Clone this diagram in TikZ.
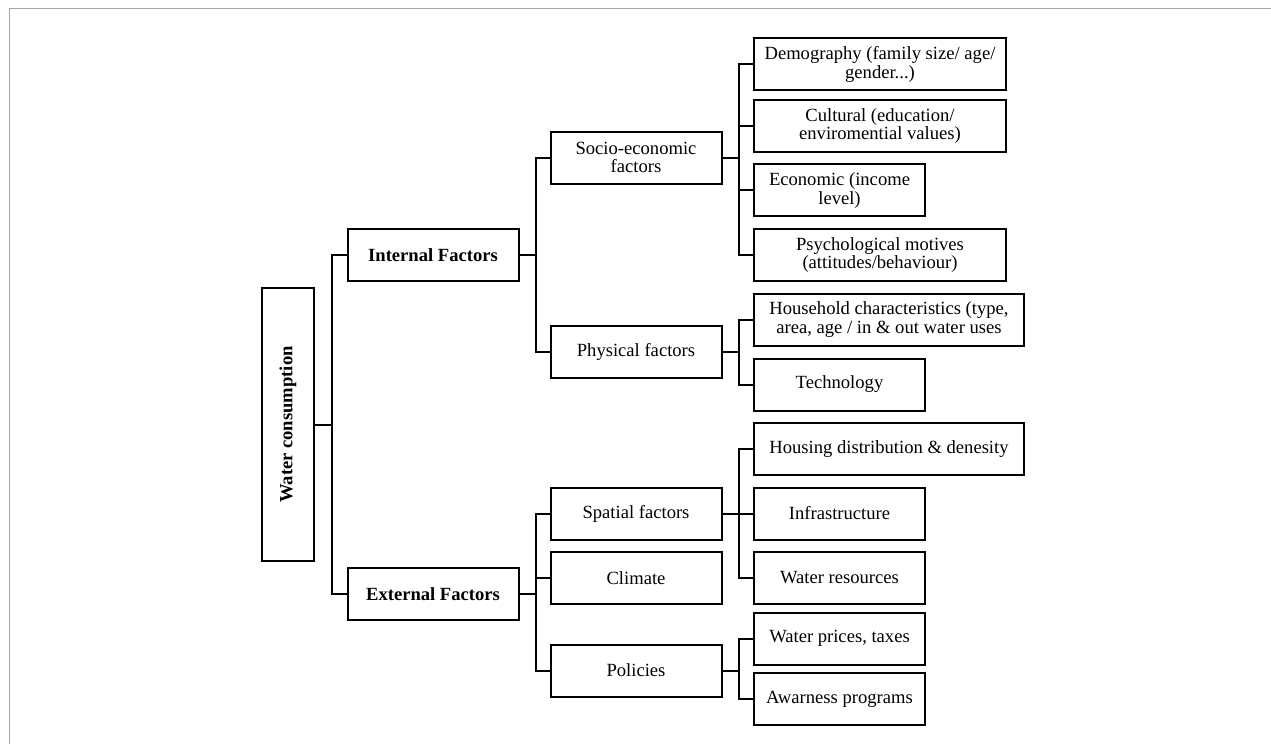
\documentclass[tikz,border=0pt]{standalone}
\usepackage{fontspec}
\setmainfont{Liberation Serif}
\usepackage{tikz}
\usetikzlibrary{calc}
\definecolor{framegray}{HTML}{A6A6A6}

\begin{document}
\begin{tikzpicture}[
            x=1pt, y=-1pt,
            block/.style={rectangle, draw, line width=2pt, align=center, inner sep=2pt,
                minimum height=52pt, minimum width=171pt,
                font=\fontsize{18.6}{18.8}\selectfont},
            wideblock/.style={block, minimum width=252pt},
            widerblock/.style={block, minimum width=270pt},
            link/.style={line width=2pt}
        ]

        \useasboundingbox (0,0) rectangle (1271,744);
        \draw[framegray, line width=1.6pt] (9.3,744) -- (9.3,8.3) -- (1271,8.3);

        % root and first level
        \node[block, rotate=90, minimum width=273pt, minimum height=52pt, font=\fontsize{18.6}{18.8}\selectfont\bfseries] (consumption) at (288,424.5) {Water consumption};
        \node[block, font=\fontsize{18.6}{18.8}\selectfont\bfseries] (internal) at (433,255) {Internal Factors};
        \node[block, font=\fontsize{18.6}{18.8}\selectfont\bfseries] (external) at (433,594) {External Factors};

        % second level
        \node[block] (socio) at (636,157.5) {Socio-economic\\factors};
        \node[block] (physical) at (636,352) {Physical factors};
        \node[block] (spatial) at (636,513.5) {Spatial factors};
        \node[block] (climate) at (636,578) {Climate};
        \node[block] (policies) at (636,670.5) {Policies};

        % third level
        \node[wideblock] (demography) at (880,64.2) {Demography (family size/ age/\\gender...)};
        \node[wideblock] (cultural) at (880,126) {Cultural (education/\\enviromential values)};
        \node[block] (economic) at (839.5,190.3) {Economic (income\\level)};
        \node[wideblock] (psychological) at (880,255) {Psychological motives\\(attitudes/behaviour)};
        \node[widerblock] (household) at (889,319.5) {Household characteristics (type,\\area, age / in \& out water uses};
        \node[block] (technology) at (839.5,384.5) {Technology};
        \node[widerblock] (housing) at (889,449) {Housing distribution \& denesity};
        \node[block] (infrastructure) at (839.5,513.5) {Infrastructure};
        \node[block] (resources) at (839.5,578) {Water resources};
        \node[block] (prices) at (839.5,638.5) {Water prices, taxes};
        \node[block] (awareness) at (839.5,699) {Awarness programs};

        \draw[link] (consumption.south) -- ++(16.5,0) |- (internal.west);
        \draw[link] (consumption.south) -- ++(16.5,0) |- (external.west);

        \draw[link] (internal.east) -- ++(16.5,0) |- (socio.west);
        \draw[link] (internal.east) -- ++(16.5,0) |- (physical.west);

        \draw[link] (external.east) -- ++(16.5,0) |- (spatial.west);
        \draw[link] (external.east) -- ++(16.5,0) |- (climate.west);
        \draw[link] (external.east) -- ++(16.5,0) |- (policies.west);

        \draw[link] (socio.east) -- ++(16.5,0) |- (demography.west);
        \draw[link] (socio.east) -- ++(16.5,0) |- (cultural.west);
        \draw[link] (socio.east) -- ++(16.5,0) |- (economic.west);
        \draw[link] (socio.east) -- ++(16.5,0) |- (psychological.west);

        \draw[link] (physical.east) -- ++(16.5,0) |- (household.west);
        \draw[link] (physical.east) -- ++(16.5,0) |- (technology.west);

        \draw[link] (spatial.east) -- ++(16.5,0) |- (housing.west);
        \draw[link] (spatial.east) -- ++(16.5,0) |- (infrastructure.west);
        \draw[link] (spatial.east) -- ++(16.5,0) |- (resources.west);

        \draw[link] (policies.east) -- ++(16.5,0) |- (prices.west);
        \draw[link] (policies.east) -- ++(16.5,0) |- (awareness.west);

    \end{tikzpicture}
\end{document}
